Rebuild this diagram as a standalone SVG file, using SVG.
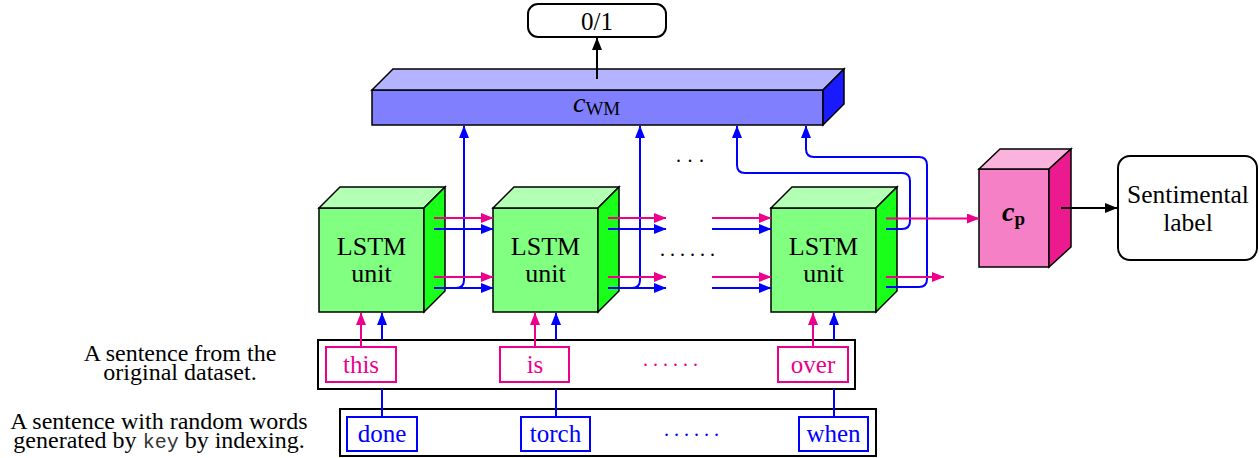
<svg xmlns="http://www.w3.org/2000/svg" width="1259" height="458" viewBox="0 0 1259 458">
<style>
.t{font-family:'Liberation Serif','Times New Roman','DejaVu Serif',serif;fill:#000}
.edge{stroke:#000;stroke-width:1.5;stroke-linejoin:miter}
.pk{stroke:#ec008c;stroke-width:2;fill:none}
.bl{stroke:#0000ff;stroke-width:2;fill:none}
.bk{stroke:#000;stroke-width:2;fill:none}
.box{fill:#fff;stroke:#000;stroke-width:2}
.pbox{fill:#fff;stroke:#ec008c;stroke-width:2}
.bbox{fill:#fff;stroke:#0000ff;stroke-width:2}
.gf{fill:#80ff80}.gt{fill:#b3ffb3}.gr{fill:#1aff1a}
.ptx{fill:#ec008c}.btx{fill:#0000ff}
</style>
<defs>
<marker id="ap" markerUnits="userSpaceOnUse" markerWidth="13" markerHeight="10" refX="12" refY="5" orient="auto"><path d="M0,0 L12.5,5 L0,10 z" fill="#ec008c"/></marker>
<marker id="ab" markerUnits="userSpaceOnUse" markerWidth="13" markerHeight="10" refX="12" refY="5" orient="auto"><path d="M0,0 L12.5,5 L0,10 z" fill="#0000ff"/></marker>
<marker id="ak" markerUnits="userSpaceOnUse" markerWidth="13" markerHeight="10" refX="12" refY="5" orient="auto"><path d="M0,0 L12.5,5 L0,10 z" fill="#000"/></marker>
</defs>
<g font-family="Liberation Serif, Times New Roman, serif">

<!-- output 0/1 -->
<g id="out01">
<rect class="box" x="528" y="4" width="138" height="33" rx="10"/>
<text class="t" x="597" y="30" font-size="25" text-anchor="middle">0/1</text>
</g>

<!-- c_WM bar -->
<g id="cwm">
<rect class="edge" fill="#8080ff" x="372" y="90" width="451" height="35"/>
<polygon class="edge" fill="#b3b3ff" points="372,90 393,69 844,69 823,90"/>
<polygon class="edge" fill="#1a1aff" points="823,90 844,69 844,104 823,125"/>
<text class="t" x="573" y="112" font-size="28" font-style="italic">c<tspan font-style="normal" font-size="19" dy="3">WM</tspan></text>
</g>

<!-- LSTM cubes -->
<g id="lstm1">
<rect class="edge gf" x="319" y="208" width="105" height="104"/>
<polygon class="edge gt" points="319,208 340,187 445,187 424,208"/>
<polygon class="edge gr" points="424,208 445,187 445,291 424,312"/>
<text class="t" x="371.5" y="255" font-size="26" text-anchor="middle">LSTM</text>
<text class="t" x="371.5" y="282" font-size="26" text-anchor="middle">unit</text>
</g>
<g id="lstm2">
<rect class="edge gf" x="493" y="208" width="105" height="104"/>
<polygon class="edge gt" points="493,208 514,187 619,187 598,208"/>
<polygon class="edge gr" points="598,208 619,187 619,291 598,312"/>
<text class="t" x="545.5" y="255" font-size="26" text-anchor="middle">LSTM</text>
<text class="t" x="545.5" y="282" font-size="26" text-anchor="middle">unit</text>
</g>
<g id="lstm3">
<rect class="edge gf" x="771" y="208" width="105" height="104"/>
<polygon class="edge gt" points="771,208 792,187 897,187 876,208"/>
<polygon class="edge gr" points="876,208 897,187 897,291 876,312"/>
<text class="t" x="823.5" y="255" font-size="26" text-anchor="middle">LSTM</text>
<text class="t" x="823.5" y="282" font-size="26" text-anchor="middle">unit</text>
</g>

<!-- c_p cube -->
<g id="cp">
<rect class="edge" fill="#f580c5" x="979" y="169" width="70" height="98"/>
<polygon class="edge" fill="#f9b3dc" points="979,169 1000,149 1071,149 1049,169"/>
<polygon class="edge" fill="#ec1a8f" points="1049,169 1071,149 1071,247 1049,267"/>
<text class="t" x="1002" y="221" font-size="28" font-style="italic" font-weight="bold">c<tspan font-style="normal" font-size="19" dy="4">p</tspan></text>
</g>

<!-- Sentimental label -->
<g id="sentiment">
<rect class="box" x="1118" y="156" width="139" height="104" rx="12"/>
<text class="t" x="1188" y="203" font-size="25.5" text-anchor="middle">Sentimental</text>
<text class="t" x="1188" y="231" font-size="25.5" text-anchor="middle">label</text>
</g>

<!-- sentence boxes -->
<g id="sentence-orig">
<rect class="box" x="318" y="340" width="537" height="49"/>
</g>
<g id="sentence-rand">
<rect class="box" x="340" y="409" width="536" height="47"/>
</g>

<!-- connectors -->
<g id="connectors">
<line class="bl" x1="382" y1="417" x2="382" y2="389"/>
<line class="bl" x1="556" y1="417" x2="556" y2="389"/>
<line class="bl" x1="834" y1="417" x2="834" y2="389"/>
<line class="bl" x1="382" y1="340" x2="382" y2="313" marker-end="url(#ab)"/>
<line class="bl" x1="556" y1="340" x2="556" y2="313" marker-end="url(#ab)"/>
<line class="bl" x1="834" y1="340" x2="834" y2="313" marker-end="url(#ab)"/>
<line class="pk" x1="361" y1="347" x2="361" y2="313" marker-end="url(#ap)"/>
<line class="pk" x1="535" y1="347" x2="535" y2="313" marker-end="url(#ap)"/>
<line class="pk" x1="813" y1="347" x2="813" y2="313" marker-end="url(#ap)"/>

<path class="bl" d="M434,288 H456 Q464,288 464,280 V126" marker-end="url(#ab)"/>
<path class="bl" d="M608,288 H632 Q640,288 640,280 V126" marker-end="url(#ab)"/>
<path class="bl" d="M886,229 H902 Q910,229 910,221 V181 Q910,173 902,173 H745 Q737,173 737,165 V126" marker-end="url(#ab)"/>
<path class="bl" d="M886,287 H919 Q927,287 927,279 V165 Q927,157 919,157 H814 Q806,157 806,149 V126" marker-end="url(#ab)"/>

<line class="bl" x1="434" y1="229" x2="493" y2="229" marker-end="url(#ab)"/>
<line class="bl" x1="434" y1="288" x2="493" y2="288" marker-end="url(#ab)"/>
<line class="pk" x1="434" y1="218" x2="493" y2="218" marker-end="url(#ap)"/>
<line class="pk" x1="434" y1="277" x2="493" y2="277" marker-end="url(#ap)"/>
<line class="bl" x1="608" y1="229" x2="666" y2="229" marker-end="url(#ab)"/>
<line class="bl" x1="608" y1="288" x2="666" y2="288" marker-end="url(#ab)"/>
<line class="pk" x1="608" y1="218" x2="666" y2="218" marker-end="url(#ap)"/>
<line class="pk" x1="608" y1="277" x2="666" y2="277" marker-end="url(#ap)"/>
<line class="bl" x1="712" y1="229" x2="771" y2="229" marker-end="url(#ab)"/>
<line class="bl" x1="712" y1="288" x2="771" y2="288" marker-end="url(#ab)"/>
<line class="pk" x1="712" y1="218" x2="771" y2="218" marker-end="url(#ap)"/>
<line class="pk" x1="712" y1="277" x2="771" y2="277" marker-end="url(#ap)"/>
<line class="pk" x1="886" y1="218.5" x2="979" y2="218.5" marker-end="url(#ap)"/>
<line class="pk" x1="886" y1="277" x2="944" y2="277" marker-end="url(#ap)"/>

<line class="bk" x1="597" y1="79" x2="597" y2="38" marker-end="url(#ak)"/>
<line class="bk" x1="1061" y1="208" x2="1117" y2="208" marker-end="url(#ak)"/>
</g>

<!-- word boxes -->
<g id="w-this"><rect class="pbox" x="326" y="347" width="70" height="35"/><text class="t ptx" x="361" y="373" font-size="25" text-anchor="middle">this</text></g>
<g id="w-is"><rect class="pbox" x="500" y="347" width="69" height="35"/><text class="t ptx" x="535" y="373" font-size="25" text-anchor="middle">is</text></g>
<g id="w-over"><rect class="pbox" x="778" y="347" width="70" height="35"/><text class="t ptx" x="813" y="373" font-size="25" text-anchor="middle">over</text></g>
<g id="w-done"><rect class="bbox" x="347" y="417" width="70" height="34"/><text class="t btx" x="382" y="442" font-size="25" text-anchor="middle">done</text></g>
<g id="w-torch"><rect class="bbox" x="521" y="417" width="69" height="34"/><text class="t btx" x="555.5" y="442" font-size="25" text-anchor="middle">torch</text></g>
<g id="w-when"><rect class="bbox" x="799" y="417" width="69" height="34"/><text class="t btx" x="833.5" y="442" font-size="25" text-anchor="middle">when</text></g>

<!-- ellipses -->
<text class="t" x="676" y="162" font-size="20" letter-spacing="6.5">...</text>
<text class="t" x="660" y="256" font-size="20" letter-spacing="5">......</text>
<text class="t ptx" x="643" y="366" font-size="20" letter-spacing="5">......</text>
<text class="t btx" x="664" y="436" font-size="20" letter-spacing="5">......</text>

<!-- side labels -->
<text class="t" x="180" y="361" font-size="24" text-anchor="middle">A sentence from the</text>
<text class="t" x="180" y="380" font-size="24" text-anchor="middle">original dataset.</text>
<text class="t" x="159" y="429" font-size="24" text-anchor="middle">A sentence with random words</text>
<text class="t" x="159" y="447.5" font-size="24" text-anchor="middle">generated by <tspan font-family="Liberation Mono, Courier New, monospace" font-size="20" fill="#333">key</tspan> by indexing.</text>
</g>
</svg>
